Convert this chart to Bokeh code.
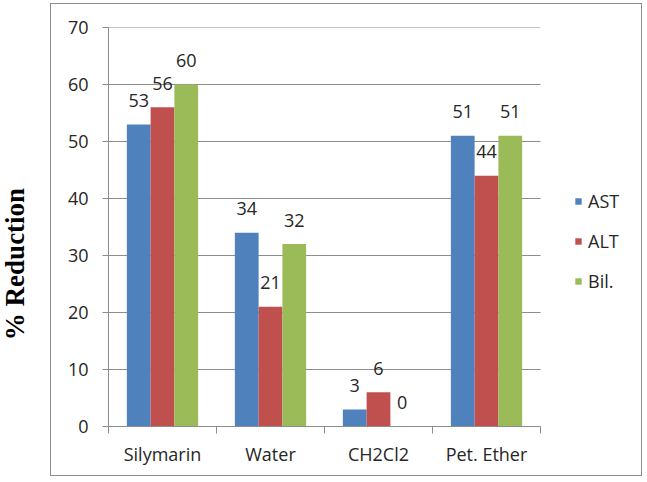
from bokeh.plotting import figure
from bokeh.models import (ColumnDataSource, FixedTicker, Legend, LegendItem, Div)
from bokeh.layouts import row
from bokeh.core.properties import value
from bokeh.embed import file_html
from bokeh.resources import INLINE

categories = ["Silymarin", "Water", "CH2Cl2", "Pet. Ether"]
ast = [53, 34, 3, 51]
alt = [56, 21, 6, 44]
bil = [60, 32, 0, 51]
series_names = ["AST", "ALT", "Bil."]
colors = ["#4F81BD", "#C0504D", "#9BBB59"]
y_ticks = [0, 10, 20, 30, 40, 50, 60, 70]
y_title = "% Reduction"

FONT = "Open Sans"
TXT = "#262626"
GRAY = "#8C8C8C"

# layout (pixels)
P_W, P_H = 592, 473
LEFT, TOP, BOTTOM = 57, 23, 51
DATA_W = 432                      # pixel width taken by the 4 categories
frame_w = P_W - LEFT
x_end = len(categories) * frame_w / DATA_W

p = figure(width=P_W, height=P_H, output_backend="svg", toolbar_location=None,
           x_range=(0, x_end), y_range=(0, 70),
           min_border_left=LEFT, min_border_right=0,
           min_border_top=TOP, min_border_bottom=BOTTOM)
p.margin = (3, 0, 0, 0)
p.styles = {"border": "1px solid #8C8C8C"}
p.outline_line_color = None
p.background_fill_color = "white"
p.border_fill_color = "white"

# horizontal grid lines limited to the category area
p.segment(x0=[0] * len(y_ticks), x1=[len(categories)] * len(y_ticks),
          y0=y_ticks, y1=y_ticks, line_color=GRAY, line_width=1)

centers = [i + 0.5 for i in range(len(categories))]
bw = 0.22
offsets = [-bw, 0.0, bw]
renderers = []
for vals, off, col, name in zip([ast, alt, bil], offsets, colors, series_names):
    src = ColumnDataSource(dict(x=[c + off for c in centers], top=vals,
                                lab=[str(v) for v in vals]))
    r = p.vbar(x="x", top="top", width=bw, bottom=0, source=src,
               fill_color=col, line_color=None)
    renderers.append((name, r))
    p.text(x="x", y="top", text="lab", source=src, text_align="center",
           text_baseline="alphabetic", y_offset=-24,
           text_font=value(FONT), text_font_size="18px", text_color=TXT)

# axes
p.xaxis.bounds = (0, len(categories))
p.xaxis.ticker = FixedTicker(ticks=centers, minor_ticks=list(range(len(categories) + 1)))
p.xaxis.major_label_overrides = {c: cat for c, cat in zip(centers, categories)}
p.xaxis.major_tick_out = 0
p.xaxis.major_tick_in = 0
p.xaxis.minor_tick_out = 7
p.xaxis.minor_tick_in = 0
p.xaxis.minor_tick_line_color = GRAY
p.xaxis.axis_line_color = GRAY
p.xaxis.major_label_text_font = FONT
p.xaxis.major_label_text_font_size = "18px"
p.xaxis.major_label_text_color = TXT
p.xaxis.major_label_standoff = 8

p.yaxis.ticker = FixedTicker(ticks=y_ticks)
p.yaxis.minor_tick_line_color = None
p.yaxis.major_tick_out = 6
p.yaxis.major_tick_in = 0
p.yaxis.major_tick_line_color = GRAY
p.yaxis.axis_line_color = GRAY
p.yaxis.major_label_text_font = FONT
p.yaxis.major_label_text_font_size = "18px"
p.yaxis.major_label_text_color = TXT
p.yaxis.major_label_standoff = 14

p.xgrid.grid_line_color = None
p.ygrid.grid_line_color = None

legend = Legend(items=[LegendItem(label=n, renderers=[r]) for n, r in renderers],
                location=(466, 133))
legend.glyph_width = 8
legend.glyph_height = 8
legend.label_height = 20
legend.spacing = 16
legend.label_standoff = 6
legend.padding = 0
legend.margin = 0
legend.border_line_color = None
legend.background_fill_alpha = 0
legend.label_text_font = FONT
legend.label_text_font_size = "18px"
legend.label_text_color = TXT
p.add_layout(legend, "center")

label_div = Div(
    text=('<div style="position:absolute; left:15px; top:264px; '
          'transform: translate(-50%, -50%) rotate(-90deg); white-space:nowrap; '
          'font-family: \'Liberation Serif\'; font-weight: bold; font-size: 27px; '
          'color: black;">' + y_title + '</div>'),
    width=50, height=482, margin=0, styles={"position": "relative"})

layout = row(label_div, p, spacing=0)
open("out.html", "w").write(file_html(layout, INLINE))
